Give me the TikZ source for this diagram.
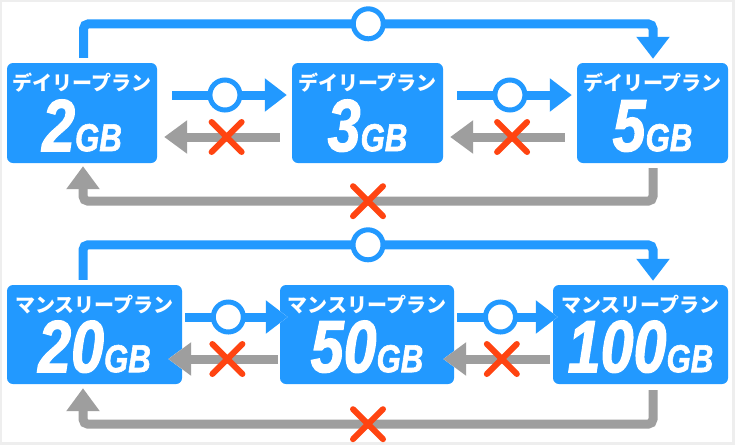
\documentclass[tikz,border=0pt]{standalone}
\usepackage{fontspec}
\usetikzlibrary{arrows.meta,shapes.misc,positioning}
\newfontfamily\jpfont{Noto Sans CJK JP}
\newfontfamily\numfont{Liberation Sans}[FakeStretch=0.8,FakeBold=1.5]
\newcommand{\gb}[1]{{\numfont\bfseries\itshape\fontsize{74}{74}\selectfont #1}{\numfont\bfseries\itshape\fontsize{39}{39}\selectfont GB}}
\definecolor{planblue}{HTML}{2299FF}
\definecolor{nggray}{HTML}{9E9E9E}
\definecolor{ngred}{HTML}{FF4411}
\definecolor{framegray}{HTML}{EEEEEE}
\tikzset{
  plan/.style={fill=planblue,rounded corners=6pt,inner sep=0pt},
  plantitle/.style={text=white,font=\jpfont\bfseries\fontsize{20}{20}\selectfont,inner sep=0pt,anchor=base},
  planamount/.style={text=white,inner sep=0pt,anchor=base,text height=52pt,text depth=0pt},
  okline/.style={draw=planblue,line width=9pt,-{Triangle[width=32pt,length=22pt]},
    preaction={draw=white,line width=12pt,-{Triangle[width=38pt,length=26pt]}}},
  ngline/.style={draw=nggray,line width=9pt,-{Triangle[width=32pt,length=23pt]},
    preaction={draw=white,line width=12pt,-{Triangle[width=38pt,length=27pt]}}},
  ok/.style={circle,draw=planblue,line width=5pt,fill=white,minimum size=30pt,inner sep=0pt},
  ng/.style={cross out,draw=ngred,line width=6pt,line cap=round,minimum size=24pt,inner sep=0pt}
}

\begin{document}
\begin{tikzpicture}[x=1pt,y=-1pt]
\useasboundingbox (0,0) rectangle (735,445);
\fill[framegray] (0,0) rectangle (735,445);
\fill[white] (2,2) rectangle (732,442);

\node[plan,minimum width=150pt,minimum height=100pt] (d2) at (82,113) {};
\node[plan,minimum width=151pt,minimum height=100pt] (d3) at (367.5,113) {};
\node[plan,minimum width=151pt,minimum height=100pt] (d5) at (652.5,113) {};
\node[plan,minimum width=175pt,minimum height=99pt] (m20) at (94.5,334.5) {};
\node[plan,minimum width=174pt,minimum height=99pt] (m50) at (367,334.5) {};
\node[plan,minimum width=175pt,minimum height=99pt] (m100) at (640.5,334.5) {};

\node[plantitle] (d2t) at ([yshift=-28pt]d2.north) {デイリープラン};
\node[plantitle] (d3t) at ([yshift=-28pt]d3.north) {デイリープラン};
\node[plantitle] (d5t) at ([yshift=-28pt]d5.north) {デイリープラン};
\node[plantitle] (m20t) at ([yshift=-28pt]m20.north) {マンスリープラン};
\node[plantitle] (m50t) at ([yshift=-28pt]m50.north) {マンスリープラン};
\node[plantitle] (m100t) at ([yshift=-28pt]m100.north) {マンスリープラン};

\node[planamount] (d2a) at ([yshift=12pt]d2.south) {\gb{2}};
\node[planamount] (d3a) at ([yshift=12pt]d3.south) {\gb{3}};
\node[planamount] (d5a) at ([yshift=12pt]d5.south) {\gb{5}};
\node[planamount] (m20a) at ([yshift=12pt]m20.south) {\gb{20}};
\node[planamount] (m50a) at ([yshift=12pt]m50.south) {\gb{50}};
\node[planamount] (m100a) at ([yshift=12pt]m100.south) {\gb{100}};

\draw[okline] ([xshift=15pt,yshift=18pt]d2.east) -- ([xshift=-5pt,yshift=18pt]d3.west) node[ok,pos=.46] (ok23) {};
\draw[okline] ([xshift=14pt,yshift=18pt]d3.east) -- ([xshift=-5pt,yshift=18pt]d5.west) node[ok,pos=.46] (ok35) {};
\draw[ngline] ([xshift=-12pt,yshift=-24pt]d3.west) -- ([xshift=7pt,yshift=-24pt]d2.east) node[ng,pos=.46] (ng32) {};
\draw[ngline] ([xshift=-12pt,yshift=-24pt]d5.west) -- ([xshift=7pt,yshift=-24pt]d3.east) node[ng,pos=.46] (ng53) {};
\draw[okline,rounded corners=5pt] ([xshift=1.5pt,yshift=5pt]d2.north) -- ++(0,-34) -| ([xshift=0.5pt,yshift=4pt]d5.north) node[ok,pos=.25] (ok25) {};
\draw[ngline,rounded corners=5pt] ([xshift=0.5pt,yshift=-5pt]d5.south) -- ++(0,33) -| ([xshift=1pt,yshift=-3pt]d2.south) node[ng,pos=.25] (ng52) {};

\draw[okline] ([xshift=3pt,yshift=17.5pt]m20.east) -- ([xshift=8pt,yshift=17.5pt]m50.west) node[ok,pos=.42] (ok2050) {};
\draw[okline] ([xshift=3pt,yshift=17.5pt]m50.east) -- ([xshift=5pt,yshift=17.5pt]m100.west) node[ok,pos=.43] (ok50100) {};
\draw[ngline] ([xshift=-2pt,yshift=-24.5pt]m50.west) -- ([xshift=-14pt,yshift=-24.5pt]m20.east) node[ng,pos=.46] (ng5020) {};
\draw[ngline] ([xshift=-3pt,yshift=-24.5pt]m100.west) -- ([xshift=-11pt,yshift=-24.5pt]m50.east) node[ng,pos=.45] (ng10050) {};
\draw[okline,rounded corners=5pt] ([xshift=-11.5pt,yshift=5pt]m20.north) -- ++(0,-35) -| ([xshift=12.5pt,yshift=4pt]m100.north) node[ok,pos=.25] (ok20100) {};
\draw[ngline,rounded corners=5pt] ([xshift=12.5pt,yshift=-6pt]m100.south) -- ++(0,34) -| ([xshift=-11.5pt,yshift=-4pt]m20.south) node[ng,pos=.25] (ng10020) {};
\end{tikzpicture}
\end{document}
